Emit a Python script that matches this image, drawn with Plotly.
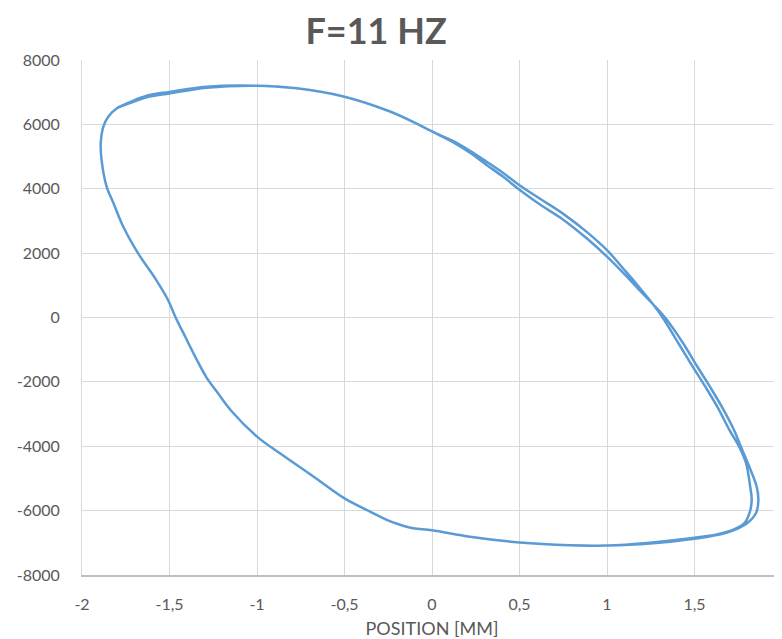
import plotly.graph_objects as go

# Cycle 1 (upper branch at upper right, inner branch on the right side)
pos_cycle1 = [-1.0, -0.773, -0.5, -0.24, -0.071, 0.0, 0.122, 0.217, 0.312, 0.407, 0.5, 0.617, 0.75, 0.884,
              1.0, 1.112, 1.19, 1.262, 1.318, 1.408, 1.487, 1.562, 1.633, 1.699, 1.755, 1.795, 1.818, 1.827, 1.814,
              1.785, 1.722, 1.627, 1.5, 1.246, 1.0, 0.789, 0.5, 0.217, 0.0, -0.107, -0.183, -0.259, -0.354,
              -0.5, -0.678, -0.869, -1.0, -1.15, -1.23, -1.29, -1.35, -1.41, -1.465, -1.51, -1.58,
              -1.68, -1.764, -1.82, -1.859, -1.888, -1.893, -1.878, -1.85, -1.80, -1.726, -1.63, -1.5, -1.287, -1.0]
force_cycle1 = [7200, 7120, 6860, 6400, 5980, 5780, 5480, 5180, 4840, 4490, 4110, 3690, 3220, 2660,
                2090, 1400, 900, 420, 0, -800, -1500, -2150, -2800, -3490, -4010, -4530, -5250, -5670, -6080,
                -6390, -6590, -6740, -6845, -6995, -7085, -7075, -6990, -6810, -6610, -6550, -6440, -6290, -6030,
                -5620, -4940, -4220, -3700, -2880, -2300, -1850, -1250, -600, 0, 560, 1200,
                2000, 2820, 3550, 4060, 4890, 5410, 5930, 6240, 6500, 6690, 6890, 7010, 7170, 7200]

# Cycle 2 (lower branch at upper right, outer branch on the right side)
pos_cycle2 = [-1.0, -0.773, -0.5, -0.24, -0.071, 0.0, 0.122, 0.217, 0.312, 0.407, 0.5, 0.617, 0.75, 0.884,
              1.0, 1.09, 1.177, 1.262, 1.332, 1.435, 1.513, 1.588, 1.659, 1.725, 1.765, 1.805, 1.855, 1.865, 1.851,
              1.80, 1.722, 1.627, 1.5, 1.246, 1.0, 0.789, 0.5, 0.217, 0.0, -0.107, -0.183, -0.259, -0.354,
              -0.5, -0.678, -0.869, -1.0, -1.15, -1.23, -1.29, -1.35, -1.41, -1.465, -1.51, -1.58,
              -1.68, -1.764, -1.82, -1.859, -1.888, -1.893, -1.878, -1.85, -1.80, -1.726, -1.63, -1.5, -1.287, -1.0]
force_cycle2 = [7200, 7120, 6860, 6400, 5980, 5780, 5440, 5120, 4740, 4370, 3970, 3510, 3040, 2460,
                1890, 1400, 900, 420, 0, -800, -1500, -2150, -2800, -3490, -4010, -4530, -5250, -5670, -6080,
                -6390, -6610, -6760, -6875, -7025, -7085, -7075, -6990, -6810, -6610, -6550, -6440, -6290, -6030,
                -5620, -4940, -4220, -3700, -2880, -2300, -1850, -1250, -600, 0, 560, 1200,
                2000, 2820, 3550, 4060, 4890, 5410, 5930, 6240, 6500, 6660, 6840, 6960, 7140, 7200]

x_tick_vals = [-2, -1.5, -1, -0.5, 0, 0.5, 1, 1.5, 2]
x_tick_text = ["-2", "-1,5", "-1", "-0,5", "0", "0,5", "1", "1,5", "2"]
y_tick_vals = [-8000, -6000, -4000, -2000, 0, 2000, 4000, 6000, 8000]
y_tick_text = ["-8000", "-6000", "-4000", "-2000", "0", "2000", "4000", "6000", "8000"]

title_text = "F=11 HZ"
x_title = "POSITION [MM]"

fig = go.Figure()
fig.add_trace(go.Scatter(
    x=pos_cycle1 + pos_cycle2[1:],
    y=force_cycle1 + force_cycle2[1:],
    mode="lines",
    line=dict(color="#5B9BD5", width=2.5, shape="spline", smoothing=1.0),
    hoverinfo="skip",
    showlegend=False,
))

font_family = "Lato, 'Open Sans', sans-serif"
grey = "#595959"

# The page body adds an 8px margin, so the figure is sized/offset to compensate.
fig.update_layout(
    width=774, height=631,
    margin=dict(l=74, r=0, t=52, b=64),
    paper_bgcolor="white", plot_bgcolor="white",
    font=dict(family=font_family, color=grey, size=16),
    title=dict(text="<b>" + title_text + "</b>", x=0.4755, xref="container", xanchor="center",
               y=0.963, yref="container", yanchor="middle",
               font=dict(family=font_family, size=36, color=grey)),
    xaxis=dict(range=[-2, 2], tickvals=x_tick_vals, ticktext=x_tick_text,
               showgrid=True, gridcolor="#D9D9D9", gridwidth=1, zeroline=False,
               showline=True, linecolor="#BFBFBF", linewidth=1.5,
               ticks="", ticklabelstandoff=14, automargin=False,
               tickfont=dict(size=16, color=grey),
               title=dict(text=x_title, font=dict(size=18, color=grey), standoff=12)),
    yaxis=dict(range=[-8000, 8000], tickvals=y_tick_vals, ticktext=y_tick_text,
               showgrid=True, gridcolor="#D9D9D9", gridwidth=1, zeroline=False,
               showline=True, linecolor="#D9D9D9", linewidth=1,
               ticks="", ticklabelstandoff=18, automargin=False,
               tickfont=dict(size=16, color=grey)),
)

fig.write_html("out.html")
